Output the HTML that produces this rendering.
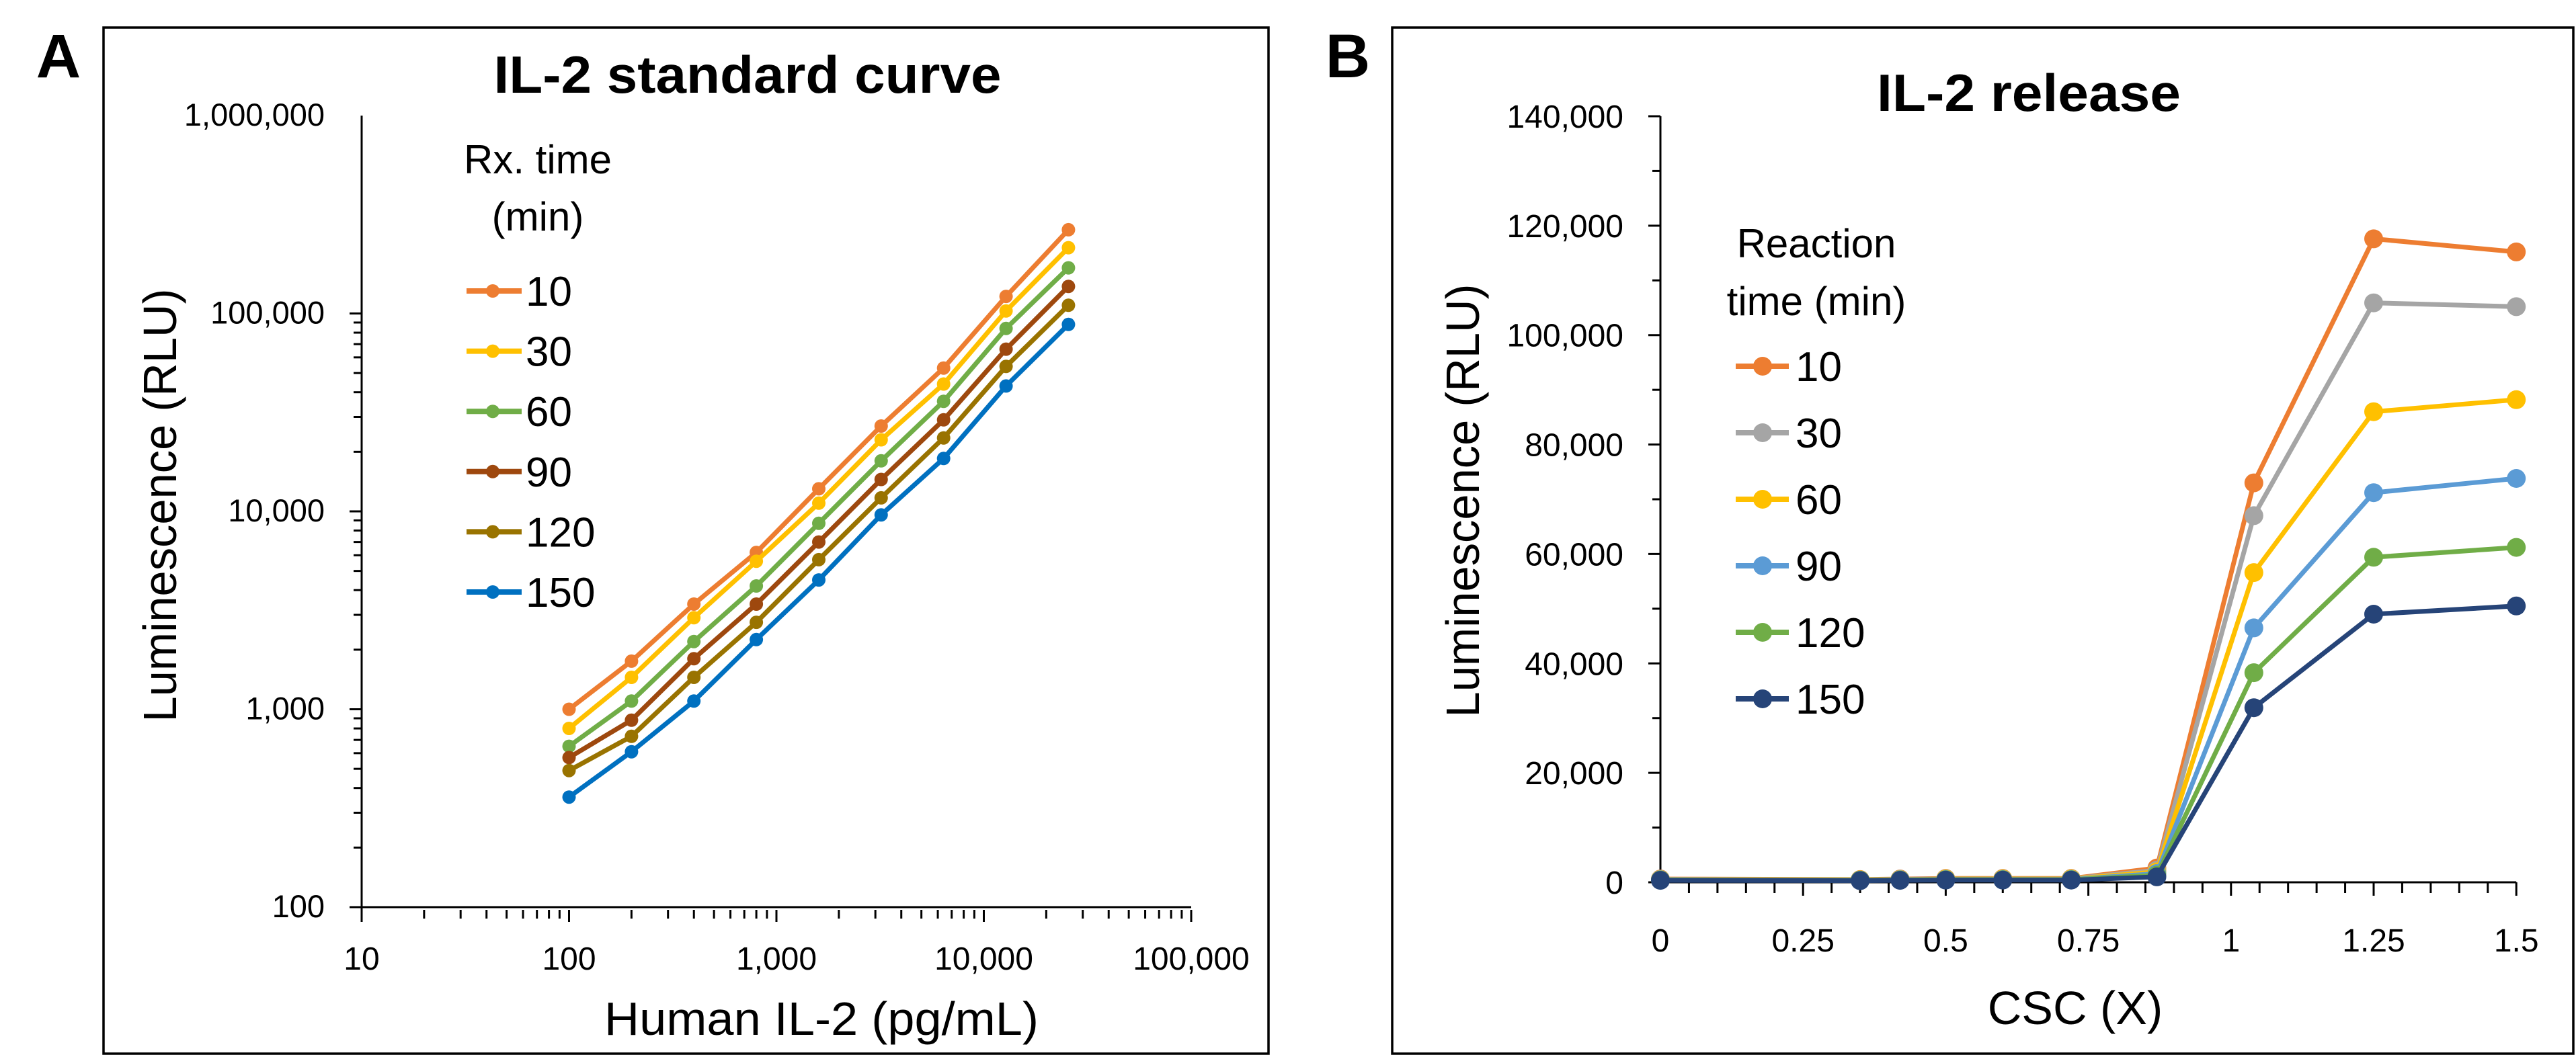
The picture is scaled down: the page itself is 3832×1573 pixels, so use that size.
<!DOCTYPE html>
<html><head><meta charset="utf-8"><style>
html,body{margin:0;padding:0;background:#fff;}
svg{display:block;font-family:"Liberation Sans",sans-serif;}
</style></head><body>
<svg id="s" width="3832" height="1573" xmlns="http://www.w3.org/2000/svg"></svg>
<script>
var s=document.getElementById('s');var h='';
function L(x1,y1,x2,y2,c,w){h+='<line x1="'+x1+'" y1="'+y1+'" x2="'+x2+'" y2="'+y2+'" stroke="'+(c||'#000')+'" stroke-width="'+(w||3)+'"/>';}
function T(x,y,t,sz,anc,extra){h+='<text x="'+x+'" y="'+y+'" font-size="'+sz+'" text-anchor="'+(anc||'middle')+'" '+(extra||'')+'>'+t+'</text>';}
function fmt(n){return n.toString().replace(/\B(?=(\d{3})+(?!\d))/g,',');}
// frames
h+='<rect x="154" y="41" width="1733" height="1527" fill="none" stroke="#000" stroke-width="3.5"/>';
h+='<rect x="2071" y="41" width="1757" height="1527" fill="none" stroke="#000" stroke-width="3.5"/>';
T(87,115,'A',92,'middle','font-weight="bold"');
T(2005,115,'B',92,'middle','font-weight="bold"');
// ---- Panel A
var ax0=538,ay0=1354,decX=308.5,decY=294.5;
function AX(v){return ax0+(Math.log10(v)-1)*decX;}
function AY(v){return 172+(6-Math.log10(v))*decY;}
L(ax0,AY(1e6),ax0,ay0+18);L(ax0-18,AY(100),AX(1e5),AY(100));
for(var d=2;d<=5;d++){for(var k=1;k<=10;k++){var v=Math.pow(10,d)*k;if(d==5&&k>1)break;var y=AY(v);L(ax0-(k==1||k==10?18:12),y,ax0,y);} }
for(var d=1;d<=4;d++){for(var k=1;k<=10;k++){var x=AX(Math.pow(10,d)*k);L(x,ay0,x,ay0+(k==1||k==10?18:13));}}
[100,1000,10000,100000,1000000].forEach(function(v){T(483,AY(v)+15,fmt(v),47,'end');});
[10,100,1000,10000,100000].forEach(function(v){T(AX(v),1443,fmt(v),48);});
T(1112,138,'IL-2 standard curve',78,'middle','font-weight="bold" textLength="755" lengthAdjust="spacingAndGlyphs"');
T(1222,1540,'Human IL-2 (pg/mL)',70,'middle','textLength="646" lengthAdjust="spacingAndGlyphs"');
T(0,0,'Luminescence (RLU)',70,'middle','transform="translate(262,752) rotate(-90)" textLength="645" lengthAdjust="spacingAndGlyphs"');
var xa=[100,200,400,800,1600,3200,6400,12800,25600];
var SA=[['10','#ED7D31',[1000,1750,3400,6200,13000,27000,53000,122000,265000]],
['30','#FFC000',[800,1450,2900,5600,11000,23000,44000,103000,215000]],
['60','#70AD47',[650,1100,2200,4200,8700,18000,36000,84000,170000]],
['90','#9E480E',[570,880,1800,3400,7000,14500,29000,66000,137000]],
['120','#997300',[490,730,1450,2750,5700,11700,23500,54000,110000]],
['150','#0070C0',[360,610,1100,2250,4500,9600,18500,43000,88000]]];
SA.forEach(function(sr,i){var p=sr[2].map(function(v,j){return AX(xa[j]).toFixed(1)+','+AY(v).toFixed(1);});
h+='<polyline points="'+p.join(' ')+'" fill="none" stroke="'+sr[1]+'" stroke-width="7" stroke-linejoin="round"/>';
p.forEach(function(q){var c=q.split(',');h+='<circle cx="'+c[0]+'" cy="'+c[1]+'" r="10" fill="'+sr[1]+'"/>';});
var ly=433+i*89.6;L(694,ly,776,ly,sr[1],8);h+='<circle cx="733" cy="'+ly+'" r="10" fill="'+sr[1]+'"/>';
T(782,ly+22,sr[0],62,'start');});
T(800,258,'Rx. time',60,'middle');T(800,343,'(min)',60,'middle');
// ---- Panel B
var bx0=2470,by0=1313;
function BX(v){return bx0+v/0.25*212.2;}
function BY(v){return by0-v/20000*162.86;}
L(bx0,BY(140000),bx0,by0);L(bx0,by0,BX(1.5),by0);
for(var v=0;v<=140000;v+=10000){L(bx0-(v%20000==0?18:12),BY(v),bx0,BY(v));}
for(var i=1;i<=30;i++){var x=BX(i*0.05);L(x,by0,x,by0+(i%5==0?20:16));}
for(var v=0;v<=140000;v+=20000)T(2415,BY(v)+17,fmt(v),48,'end');
['0','0.25','0.5','0.75','1','1.25','1.5'].forEach(function(t,i){T(BX(i*0.25),1416,t,48);});
T(3018,165,'IL-2 release',78,'middle','font-weight="bold" textLength="452" lengthAdjust="spacingAndGlyphs"');
T(3087,1524,'CSC (X)',70,'middle');
T(0,0,'Luminescence (RLU)',70,'middle','transform="translate(2200,745) rotate(-90)" textLength="645" lengthAdjust="spacingAndGlyphs"');
var xb=[0,0.35,0.42,0.5,0.6,0.72,0.87,1.04,1.25,1.5];
var SB=[['10','#ED7D31',[600,500,600,700,700,700,2600,73000,117600,115200]],
['30','#A5A5A5',[550,450,550,650,650,650,2200,67000,105900,105200]],
['60','#FFC000',[500,450,500,600,600,600,1900,56600,86000,88200]],
['90','#5B9BD5',[450,400,450,500,500,500,1600,46500,71200,73800]],
['120','#70AD47',[400,350,400,450,450,450,1300,38300,59400,61200]],
['150','#264478',[350,300,350,400,400,400,1000,31900,49000,50500]]];
SB.forEach(function(sr,i){var p=sr[2].map(function(v,j){return BX(xb[j]).toFixed(1)+','+BY(v).toFixed(1);});
h+='<polyline points="'+p.join(' ')+'" fill="none" stroke="'+sr[1]+'" stroke-width="7" stroke-linejoin="round"/>';
p.forEach(function(q){var c=q.split(',');h+='<circle cx="'+c[0]+'" cy="'+c[1]+'" r="14" fill="'+sr[1]+'"/>';});
var ly=545+i*99;L(2582,ly,2661,ly,sr[1],8);h+='<circle cx="2622" cy="'+ly+'" r="14" fill="'+sr[1]+'"/>';
T(2671,ly+22,sr[0],62,'start');});
T(2702,383,'Reaction',60,'middle');T(2702,469,'time (min)',60,'middle');
s.innerHTML=h;
</script>
</body></html>
